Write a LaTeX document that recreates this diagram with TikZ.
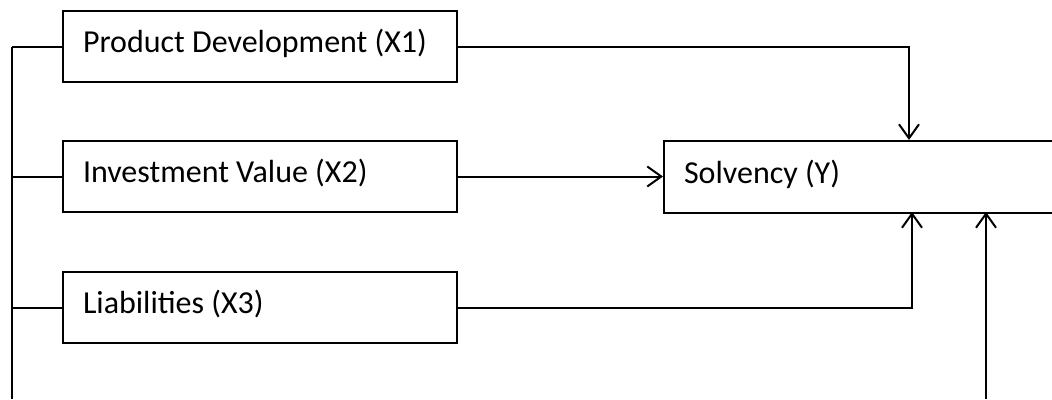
\documentclass[tikz,border=0pt]{standalone}
\usepackage{fontspec}
\setmainfont{Carlito}
\usetikzlibrary{arrows.meta}
\newcommand{\bigtxt}{\fontsize{32}{37}\selectfont}
\newcommand{\lbox}[2]{\makebox[#1][l]{#2}}
\begin{document}
\begin{tikzpicture}[x=1pt,y=-1pt,
  line width=2pt,
  box/.style={draw, rectangle, anchor=north west, minimum height=71pt, inner xsep=20pt, text height=22pt, text depth=10pt, font=\bigtxt},
  arr/.style={-{Straight Barb[length=14pt,width=20pt,line width=2pt]}}]
\useasboundingbox (0,0) rectangle (1052,399);
\node[box] (pd) at (62,10) {\lbox{354pt}{Product Development (X1)}};
\node[box] (iv) at (62,140) {\lbox{354pt}{Investment Value (X2)}};
\node[box] (li) at (62,271) {\lbox{354pt}{Liabilities (X3)}};
\node[box, minimum height=72pt] (sv) at (663,140) {\lbox{380pt}{Solvency (Y)}};
\coordinate (bustop) at (12,47);
\coordinate (busbot) at (12,399);
\coordinate (svtop) at (909,140);
\coordinate (svbot1) at (912,212);
\coordinate (svbot2) at (986,212);
\coordinate (extsrc) at (986,399);
\draw (bustop) -- (busbot);
\draw (pd.west) -- (pd.west -| bustop);
\draw (iv.west) -- (iv.west -| bustop);
\draw (li.west) -- (li.west -| bustop);
\draw[arr] (pd.east) -| (svtop);
\draw[arr] (iv.east) -- (iv.east -| sv.west);
\draw[arr] (li.east) -| (svbot1);
\draw[arr] (extsrc) -- (svbot2);
\end{tikzpicture}
\end{document}
